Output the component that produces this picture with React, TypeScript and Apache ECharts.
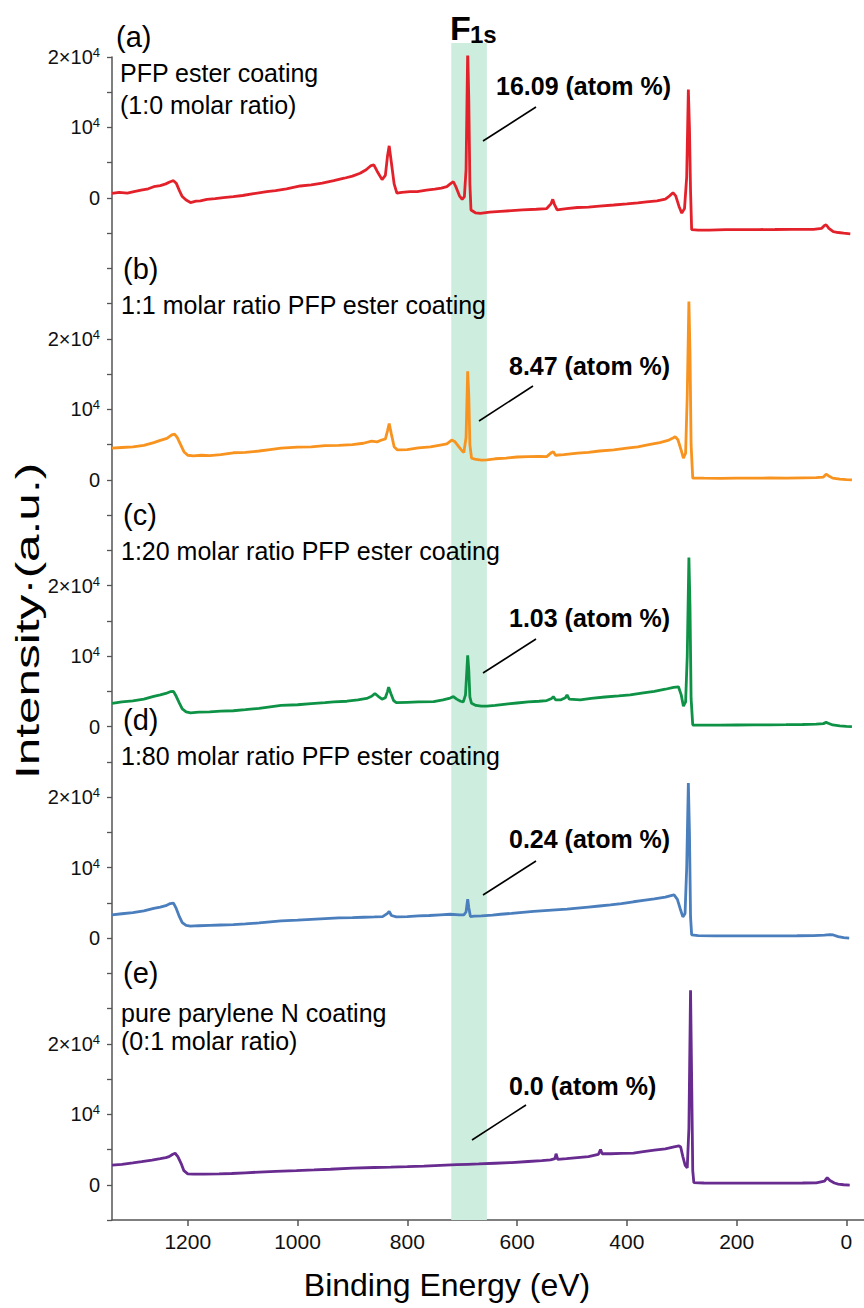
import React, { useEffect, useRef } from 'react';
import * as echarts from 'echarts';

const FONT = '"Liberation Sans", Arial, Helvetica, sans-serif';

// ---------- axes ----------
const energyTicks = [0, 200, 400, 600, 800, 1000, 1200];
const energyMin = -32;
const energyMax = 1338;
const intensityMin = -5000;
const intensityMax = 160000;
const intensityStep = 5000;
// vertical offset of each panel's zero on the shared intensity axis
const panelOffsets = [140000, 100000, 65000, 35000, 0];
const panelTickValues = [0, 10000, 20000];
const panelTickTexts = ['0', '10{sup|4}', '2×10{sup|4}'];

// ---------- labels ----------
const panelLetters = ['(a)', '(b)', '(c)', '(d)', '(e)'];
const panelCaptions = [
  ['PFP ester coating', '(1:0 molar ratio)'],
  ['1:1 molar ratio PFP ester coating'],
  ['1:20 molar ratio PFP ester coating'],
  ['1:80 molar ratio PFP ester coating'],
  ['pure parylene N coating', '(0:1 molar ratio)'],
];
const fluorineAtomPercent = ['16.09', '8.47', '1.03', '0.24', '0.0'];
const panelColors = ['#E3212B', '#F7931E', '#0E9246', '#4A7EBC', '#682B8F'];
const f1sBand = [655, 720];

// ---------- spectra: [binding energy (eV), intensity relative to panel zero] ----------
const spectrumA = [
  [1338, 650], [1325, 800], [1310, 700], [1298, 900], [1285, 1100], [1272, 1300], [1262, 1600],
  [1250, 1750], [1240, 2000], [1232, 2300], [1226, 2450], [1221, 2100], [1215, 1000], [1210, 200],
  [1203, -300], [1195, -650], [1185, -450], [1177, -400], [1165, -200], [1150, -100], [1135, 50],
  [1117, 180], [1100, 350], [1080, 600], [1056, 900], [1040, 1050], [1020, 1300], [995, 1700],
  [975, 1850], [955, 2100], [934, 2450], [915, 2800], [900, 3100], [886, 3500], [875, 4000],
  [866, 4600], [861, 4700], [855, 3800], [846, 2600], [840, 3200], [836, 6000], [833, 7400],
  [829, 5000], [824, 2000], [819, 700], [810, 800], [795, 900], [782, 900], [765, 1100],
  [750, 1250], [738, 1400], [728, 1600], [720, 2100], [716, 2300], [711, 1500], [705, 300],
  [700, -200], [696, 200], [693, 4000], [690, 21000], [688, 14000], [686, 2000], [684, -1700],
  [676, -2100], [667, -2200], [650, -2000], [630, -1900], [610, -1800], [590, -1700], [565, -1600],
  [546, -1500], [538, -800], [535, -200], [532, -900], [527, -1700], [510, -1500], [490, -1350],
  [470, -1300], [450, -1150], [424, -1000], [400, -850], [380, -700], [364, -550], [345, -400],
  [330, -150], [322, 300], [316, 750], [311, 300], [305, -1200], [300, -2150], [295, -1500],
  [291, 3000], [288, 15400], [286, 10000], [284, 1000], [282, -4500], [270, -4550], [250, -4550],
  [220, -4500], [190, -4500], [160, -4480], [130, -4470], [100, -4450], [80, -4450], [60, -4450],
  [45, -4300], [40, -3900], [37, -3800], [32, -4300], [24, -4780], [15, -4900], [5, -5000], [-7, -5100],
];

const spectrumB = [
  [1338, 4500], [1320, 4600], [1300, 4700], [1280, 4900], [1262, 5300], [1250, 5600], [1238, 5900],
  [1229, 6400], [1224, 6500], [1219, 6000], [1213, 5000], [1207, 4000], [1200, 3500], [1190, 3400],
  [1175, 3500], [1160, 3450], [1140, 3600], [1117, 3850], [1095, 3900], [1070, 4100], [1050, 4300],
  [1030, 4500], [1000, 4650], [975, 4700], [950, 4850], [925, 4900], [900, 5000], [880, 5200],
  [865, 5500], [855, 5400], [849, 5600], [840, 5800], [836, 7000], [833, 8000], [829, 6500],
  [824, 4700], [818, 4250], [800, 4300], [780, 4550], [758, 4700], [740, 4950], [728, 5100],
  [719, 5650], [713, 5400], [706, 4700], [700, 4100], [697, 3900], [693, 6000], [690, 15400],
  [688, 12000], [686, 5000], [683, 3100], [675, 2900], [665, 2800], [655, 2850], [640, 3000],
  [620, 3100], [600, 3250], [580, 3300], [560, 3350], [546, 3300], [537, 3900], [534, 4000],
  [530, 3500], [515, 3600], [490, 3800], [470, 3900], [450, 4100], [424, 4250], [400, 4500],
  [380, 4700], [360, 5000], [340, 5300], [325, 5600], [317, 5900], [312, 6150], [307, 5700],
  [301, 4200], [297, 3100], [293, 3800], [290, 12000], [287, 25300], [285, 18000], [283, 5000],
  [280, 250], [260, 240], [230, 230], [200, 260], [170, 250], [140, 270], [110, 260], [80, 300],
  [55, 320], [42, 400], [37, 800], [33, 600], [25, 250], [12, 120], [0, 30], [-10, 0],
];

const spectrumC = [
  [1338, 3300], [1320, 3500], [1300, 3650], [1280, 3900], [1262, 4300], [1250, 4500], [1240, 4700],
  [1232, 4950], [1226, 5000], [1221, 4300], [1215, 3300], [1210, 2500], [1203, 2100], [1195, 1950],
  [1180, 2050], [1160, 2100], [1140, 2200], [1117, 2250], [1095, 2400], [1070, 2600], [1050, 2800],
  [1030, 3000], [1000, 3100], [975, 3250], [950, 3400], [934, 3500], [910, 3600], [890, 3800],
  [874, 4000], [865, 4300], [859, 4700], [853, 4300], [846, 3900], [840, 4100], [836, 5000],
  [834, 5600], [830, 4700], [825, 3700], [820, 3400], [800, 3450], [780, 3500], [752, 3550],
  [735, 3800], [722, 4050], [716, 4250], [710, 3900], [703, 3600], [698, 3500], [694, 4500],
  [690, 10100], [688, 8000], [686, 4200], [683, 3300], [675, 3000], [665, 2900], [655, 2900],
  [640, 3000], [620, 3200], [600, 3350], [580, 3500], [560, 3600], [546, 3700], [537, 4000],
  [534, 4250], [530, 3800], [520, 3800], [512, 4100], [509, 4500], [505, 3900], [485, 3800],
  [465, 4000], [440, 4200], [415, 4350], [394, 4500], [370, 4800], [350, 5000], [330, 5300],
  [315, 5550], [306, 5650], [301, 4500], [297, 2900], [293, 3500], [290, 10000], [287, 24000],
  [285, 17000], [283, 4000], [280, 230], [260, 200], [230, 220], [200, 230], [170, 240],
  [140, 250], [110, 270], [80, 300], [55, 350], [42, 420], [37, 600], [32, 450], [25, 230],
  [12, 100], [0, 20], [-10, 0],
];

const spectrumD = [
  [1338, 3300], [1320, 3450], [1300, 3600], [1280, 3850], [1262, 4200], [1250, 4400], [1240, 4600],
  [1232, 4900], [1226, 4950], [1221, 4200], [1215, 3000], [1210, 2200], [1203, 1800], [1195, 1700],
  [1180, 1750], [1160, 1800], [1140, 1850], [1117, 1900], [1095, 2000], [1070, 2150], [1050, 2300],
  [1030, 2450], [1000, 2550], [975, 2650], [950, 2750], [925, 2850], [900, 2900], [880, 2950],
  [860, 3000], [845, 3050], [836, 3500], [833, 3800], [829, 3200], [820, 3000], [800, 3050],
  [780, 3150], [760, 3200], [740, 3300], [722, 3380], [705, 3300], [697, 3280], [693, 3700],
  [690, 5500], [688, 4300], [685, 3050], [678, 3100], [665, 3150], [645, 3250], [630, 3380],
  [610, 3500], [590, 3650], [570, 3800], [550, 3900], [530, 4000], [509, 4100], [490, 4250],
  [470, 4400], [450, 4550], [430, 4700], [410, 4900], [388, 5150], [370, 5350], [350, 5550],
  [330, 5800], [318, 6050], [314, 6120], [308, 5500], [303, 4200], [298, 3000], [294, 3500],
  [291, 10000], [288, 22000], [286, 15000], [284, 3000], [282, 440], [270, 350], [240, 310],
  [210, 300], [180, 300], [150, 310], [120, 320], [90, 330], [60, 350], [40, 420], [30, 500],
  [24, 440], [15, 200], [5, 50], [-5, 0],
];

const spectrumE = [
  [1338, 2800], [1320, 2900], [1300, 3100], [1284, 3280], [1265, 3500], [1250, 3700], [1240, 3850],
  [1234, 4000], [1228, 4300], [1223, 4470], [1218, 4000], [1212, 3000], [1207, 2000], [1200, 1550],
  [1190, 1500], [1170, 1500], [1143, 1530], [1120, 1600], [1095, 1700], [1070, 1800], [1040, 1900],
  [1002, 2000], [970, 2100], [940, 2200], [900, 2350], [860, 2450], [830, 2500], [800, 2570],
  [770, 2650], [740, 2750], [710, 2850], [690, 2900], [670, 2950], [640, 3050], [610, 3150],
  [580, 3300], [555, 3420], [539, 3520], [531, 3700], [529, 4400], [526, 3600], [510, 3700],
  [490, 3850], [470, 4000], [452, 4300], [448, 5000], [445, 4400], [430, 4400], [410, 4450],
  [388, 4500], [370, 4700], [350, 4900], [330, 5100], [312, 5400], [305, 5500], [302, 5350],
  [298, 4000], [294, 2800], [290, 2400], [287, 8000], [284, 27600], [282, 15000], [280, 2000],
  [278, 300], [260, 250], [230, 220], [200, 230], [170, 220], [140, 230], [110, 240], [80, 250],
  [55, 260], [40, 500], [35, 1000], [30, 600], [22, 250], [15, 100], [5, 0], [-6, -50],
];

const spectra = [spectrumA, spectrumB, spectrumC, spectrumD, spectrumE];

// ---------- layout (pixels) ----------
const GRID = { left: 112, right: 0, top: 57, bottom: 88 };
const BAND_TOP = 43;
const letterPos = [[116, 37], [123, 269], [123, 515], [123, 720], [123, 973]];
const captionPos = [[120, 73, 32], [121, 305, 0], [121, 551, 0], [121, 756, 0], [121, 1013, 28]];
const leaderLines = [
  [483, 141, 536, 107], [479, 421, 533, 386], [483, 673, 536, 639], [483, 895, 536, 861], [472, 1140, 526, 1105],
];
const atomTextPos = [[496, 86], [509, 366], [509, 618], [509, 839], [509, 1086]];

function buildTickLabel(v: number): string {
  for (const off of panelOffsets) {
    const idx = panelTickValues.indexOf(v - off);
    if (idx >= 0) return panelTickTexts[idx];
  }
  return '';
}

export default function App() {
  const ref = useRef<HTMLDivElement>(null);
  useEffect(() => {
    if (!ref.current) return;
    const chart = echarts.init(ref.current, undefined, { renderer: 'svg' });

    const graphics: any[] = [];
    const txt = (x: number, y: number, text: string, font: string, extra: any = {}) => ({
      type: 'text', x, y, z: 100,
      style: { text, font, fill: '#000', textAlign: 'left', textVerticalAlign: 'middle' },
      ...extra,
    });
    panelLetters.forEach((t, i) => {
      graphics.push(txt(letterPos[i][0], letterPos[i][1], t, `29px ${FONT}`));
    });
    panelCaptions.forEach((lines, i) => {
      lines.forEach((t, j) => {
        graphics.push(txt(captionPos[i][0], captionPos[i][1] + j * captionPos[i][2], t, `25px ${FONT}`));
      });
    });
    leaderLines.forEach((l) => {
      graphics.push({
        type: 'line', z: 100, shape: { x1: l[0], y1: l[1], x2: l[2], y2: l[3] },
        style: { stroke: '#000', lineWidth: 1.6 },
      });
    });
    fluorineAtomPercent.forEach((p, i) => {
      graphics.push(txt(atomTextPos[i][0], atomTextPos[i][1], `${p} (atom %)`, `bold 25px ${FONT}`));
    });
    graphics.push(txt(450, 28, 'F', `bold 34px ${FONT}`));
    graphics.push(txt(470, 34, '1s', `bold 24px ${FONT}`));
    graphics.push({
      type: 'text', x: 447, y: 1285, z: 100,
      style: { text: 'Binding Energy (eV)', font: `32px ${FONT}`, fill: '#000', textAlign: 'center', textVerticalAlign: 'middle' },
    });
    graphics.push({
      type: 'text', x: 28, y: 621, z: 100, rotation: Math.PI / 2, scaleX: 1.5,
      style: { text: 'Intensity·(a.u.)', font: `33px ${FONT}`, fill: '#000', textAlign: 'center', textVerticalAlign: 'middle' },
    });

    const seriesList: any[] = spectra.map((s, i) => ({
      type: 'line',
      xAxisIndex: 0,
      yAxisIndex: 0,
      data: s.map(([e, v]) => [e, v + panelOffsets[i]]),
      showSymbol: false,
      symbol: 'none',
      lineStyle: { color: panelColors[i], width: 2.8 },
      z: 3,
      silent: true,
    }));
    seriesList.unshift({
      type: 'line',
      xAxisIndex: 1,
      yAxisIndex: 1,
      data: [[f1sBand[0], -1]],
      symbol: 'none',
      lineStyle: { opacity: 0 },
      z: 1,
      silent: true,
      markArea: {
        silent: true,
        itemStyle: { color: '#CDEEDF' },
        data: [[{ xAxis: f1sBand[0] }, { xAxis: f1sBand[1] }]],
      },
    });

    chart.setOption({
      animation: false,
      backgroundColor: '#fff',
      grid: [
        { ...GRID },
        { left: GRID.left, right: GRID.right, top: BAND_TOP, bottom: GRID.bottom },
      ],
      xAxis: [
        {
          type: 'value', gridIndex: 0, inverse: true, min: energyMin, max: energyMax,
          axisLine: { show: true, onZero: false, lineStyle: { color: '#555', width: 1.5 } },
          axisTick: { show: true, inside: false, length: 6, customValues: energyTicks, lineStyle: { color: '#555', width: 1.5 } },
          axisLabel: {
            customValues: energyTicks, fontSize: 21, fontFamily: FONT, color: '#111', margin: 11,
            formatter: (v: number) => String(v),
          },
          splitLine: { show: false },
        },
        {
          type: 'value', gridIndex: 1, inverse: true, min: energyMin, max: energyMax, show: false,
        },
      ],
      yAxis: [
        {
          type: 'value', gridIndex: 0, min: intensityMin, max: intensityMax, interval: intensityStep,
          axisLine: { show: true, onZero: false, lineStyle: { color: '#555', width: 1.5 } },
          axisTick: { show: true, inside: false, length: 5, interval: 0, lineStyle: { color: '#555', width: 1.3 } },
          axisLabel: {
            interval: 0, margin: 12, color: '#111', fontSize: 20, fontFamily: FONT,
            formatter: (v: number) => buildTickLabel(v),
            rich: {
              sup: { fontSize: 13, fontFamily: FONT, color: '#111', verticalAlign: 'bottom', padding: [0, 0, 9, 0] },
            },
          },
          splitLine: { show: false },
        },
        { type: 'value', gridIndex: 1, min: 0, max: 1, show: false },
      ],
      series: seriesList,
      graphic: graphics,
    });

    return () => chart.dispose();
  }, []);
  return <div ref={ref} style={{ position: 'fixed', left: 0, top: 0, width: 864, height: 1308, background: '#fff' }} />;
}
